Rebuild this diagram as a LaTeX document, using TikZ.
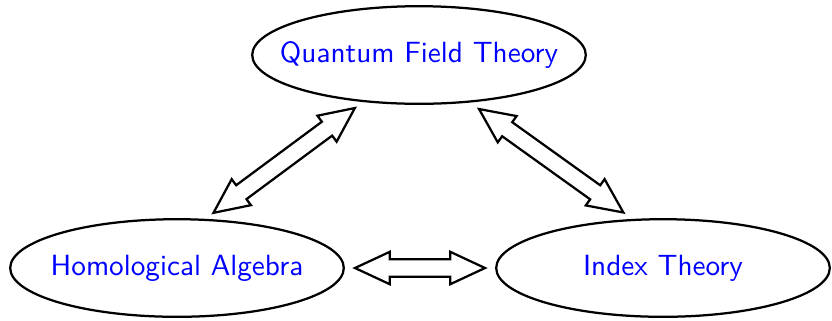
\documentclass[tikz,border=0pt]{standalone}
\usepackage{tikz}
\usetikzlibrary{shapes.geometric,shapes.arrows}
\newcommand{\topic}[3]{\node[field] (#1) at (#2) {};
	\node[fieldtext] (#1-text) at (#1) {#3};}
\newcommand{\link}[3]{\path (#1) -- node[sloped,bridge,minimum height=#3] {} (#2);}

\begin{document}
\begin{tikzpicture}[
	field/.style={draw, thick, ellipse, minimum width=4.17cm, minimum height=1.22cm,
		inner sep=0pt},
	fieldtext/.style={text=blue, font=\fontsize{10.4}{12}\sffamily},
	bridge/.style={draw, thick, double arrow, inner xsep=0pt, inner ysep=0.094cm,
		double arrow head extend=0.094cm, double arrow tip angle=50}]
	\useasboundingbox (0,0) rectangle (10.4,4);
	\topic{qft}{5.2375,3.3125}{Quantum Field Theory}
	\topic{ha}{2.2125,0.65}{Homological Algebra}
	\topic{it}{8.2875,0.65}{Index Theory}
	\link{ha.60}{qft.220}{2.2cm}
	\link{qft.317}{it.122}{2.22cm}
	\link{ha.east}{it.west}{1.625cm}
\end{tikzpicture}
\end{document}
